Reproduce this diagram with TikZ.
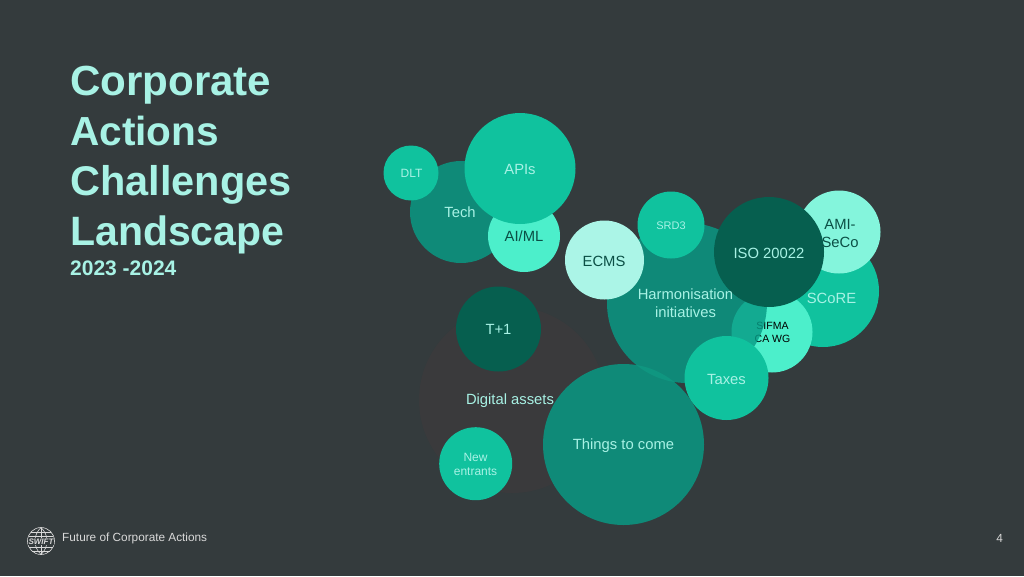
\documentclass[tikz,border=0pt]{standalone}
\usepackage{fontspec}
\setmainfont{Liberation Sans}
\definecolor{bgc}{HTML}{343B3D}
\definecolor{mint}{HTML}{A8F2E5}
\definecolor{gA}{HTML}{0F8A78}
\definecolor{gH}{HTML}{079B85}
\definecolor{gB}{HTML}{10C29E}
\definecolor{gC}{HTML}{4CEFCB}
\definecolor{gD}{HTML}{065F4F}
\definecolor{gE}{HTML}{ABF5E7}
\definecolor{gF}{HTML}{84F5DC}
\definecolor{gG}{HTML}{3A3A3C}
\definecolor{darkt}{HTML}{0B4F45}
\tikzset{
  bub/.style={circle,inner sep=0pt,minimum size=#1,align=center},
  lab/.style={text=mint,align=center,inner sep=0pt},
  labd/.style={text=darkt,align=center,inner sep=0pt},
  tit/.style={text=mint,anchor=base west,inner sep=0pt},
  foot/.style={text=white!85!black,inner sep=0pt,font=\fontsize{11.8}{12}\selectfont}
}
\newcommand{\bubble}[4]{\node[bub=#4 pt*2,fill=#3] (#1) at (#2) {};}
\begin{document}
\begin{tikzpicture}[x=1pt,y=-1pt]
\useasboundingbox (0,0) rectangle (1024,576);
\fill[bgc] (0,0) rectangle (1024,576);
% title
\node[tit,font=\fontsize{42.1}{42}\selectfont\bfseries] (t1) at (70,95) {Corporate};
\node[tit,font=\fontsize{40.6}{42}\selectfont\bfseries] (t2) at (70,145) {Actions};
\node[tit,font=\fontsize{41.5}{42}\selectfont\bfseries] (t3) at (70,195) {Challenges};
\node[tit,font=\fontsize{41}{42}\selectfont\bfseries] (t4) at (70,245) {Landscape};
\node[tit,font=\fontsize{21}{21}\selectfont\bfseries] (t5) at (70,275.7) {2023 -2024};
% digital assets
\bubble{dig}{512,400}{gG}{93}
\bubble{t1c}{498.5,329}{gD}{42.5}
\bubble{new}{475.7,463.7}{gB}{36.5}
% tech group
\bubble{tech}{461,212}{gA}{51}
\bubble{dlt}{411,173}{gB}{27.5}
\bubble{aiml}{524,236}{gC}{36}
\bubble{apis}{520,168.5}{gB}{55.5}
% harmonisation group
\bubble{score}{823,291}{gB}{56}
\bubble{ami}{839,232}{gF}{41.5}
\bubble{sifma}{772,332}{gC}{40.5}
\node[text=black,inner sep=0pt,align=center,font=\fontsize{10.5}{12.5}\selectfont] (ls) at (772.5,332.5) {SIFMA\\CA WG};
\node[bub=160pt,fill=gH,fill opacity=.82] (har) at (687,303) {};
\bubble{things}{623.5,444.5}{gA}{80.5}
\begin{scope}
\clip (687,303) circle (80);
\fill[gA!78!gB] (623.5,444.5) circle (80.5);
\end{scope}
\bubble{srd}{671,225}{gB}{33.5}
\bubble{ecms}{604.5,260}{gE}{39.5}
\bubble{iso}{769,252}{gD}{55}
\bubble{tax}{726.5,378}{gB}{42}
% labels
\node[lab,font=\fontsize{12}{14}\selectfont] (l1) at (411.5,173.5) {DLT};
\node[lab,font=\fontsize{14.8}{16}\selectfont] (l2) at (460,212.5) {Tech};
\node[lab,font=\fontsize{14.8}{16}\selectfont] (l3) at (520,169.5) {APIs};
\node[labd,font=\fontsize{14.8}{16}\selectfont] (l4) at (524,236.5) {AI/ML};
\node[labd,font=\fontsize{14.8}{16}\selectfont] (l5) at (604,261) {ECMS};
\node[lab,font=\fontsize{11}{13}\selectfont] (l6) at (671,225.5) {SRD3};
\node[lab,font=\fontsize{14.8}{16}\selectfont] (l7) at (769,253) {ISO 20022};
\node[labd,font=\fontsize{14.8}{18}\selectfont] (l8) at (840,233.5) {AMI-\\SeCo};
\node[lab,font=\fontsize{14.8}{16}\selectfont] (l9) at (831.5,298.5) {SCoRE};
\node[lab,font=\fontsize{14.8}{18}\selectfont] (l10) at (685.5,303.5) {Harmonisation\\initiatives};
\node[lab,font=\fontsize{14.8}{16}\selectfont] (l11) at (726.5,379.5) {Taxes};
\node[lab,font=\fontsize{14.8}{16}\selectfont] (l12) at (498.5,329.5) {T+1};
\node[lab,font=\fontsize{14.8}{16}\selectfont] (l13) at (510,400.5) {Digital assets};
\node[lab,font=\fontsize{12}{14}\selectfont] (l14) at (475.5,464.5) {New\\entrants};
\node[lab,font=\fontsize{14.8}{16}\selectfont] (l15) at (623.5,445.5) {Things to come};
% footer
\node[foot,anchor=west] (f1) at (62,538) {Future of Corporate Actions};
\node[foot,anchor=east] (f2) at (1003,538) {4};
% logo
\begin{scope}[white!85!black,line width=.6pt]
\draw (41,541) circle (13.5);
\draw (41,527.5) -- (41,554.5);
\draw (41,527.5) .. controls (33,535) and (33,547) .. (41,554.5);
\draw (41,527.5) .. controls (49,535) and (49,547) .. (41,554.5);
\draw (31,532) -- (51,532);
\draw (29,536) -- (53,536);
\draw (29,547) -- (53,547);
\draw (32,551) -- (50,551);
\end{scope}
\node[fill=bgc,inner sep=.5pt,text=white!85!black,font=\fontsize{8}{8}\selectfont\itshape\bfseries] (sw) at (41,541.5) {SWIFT};
\end{tikzpicture}
\end{document}
